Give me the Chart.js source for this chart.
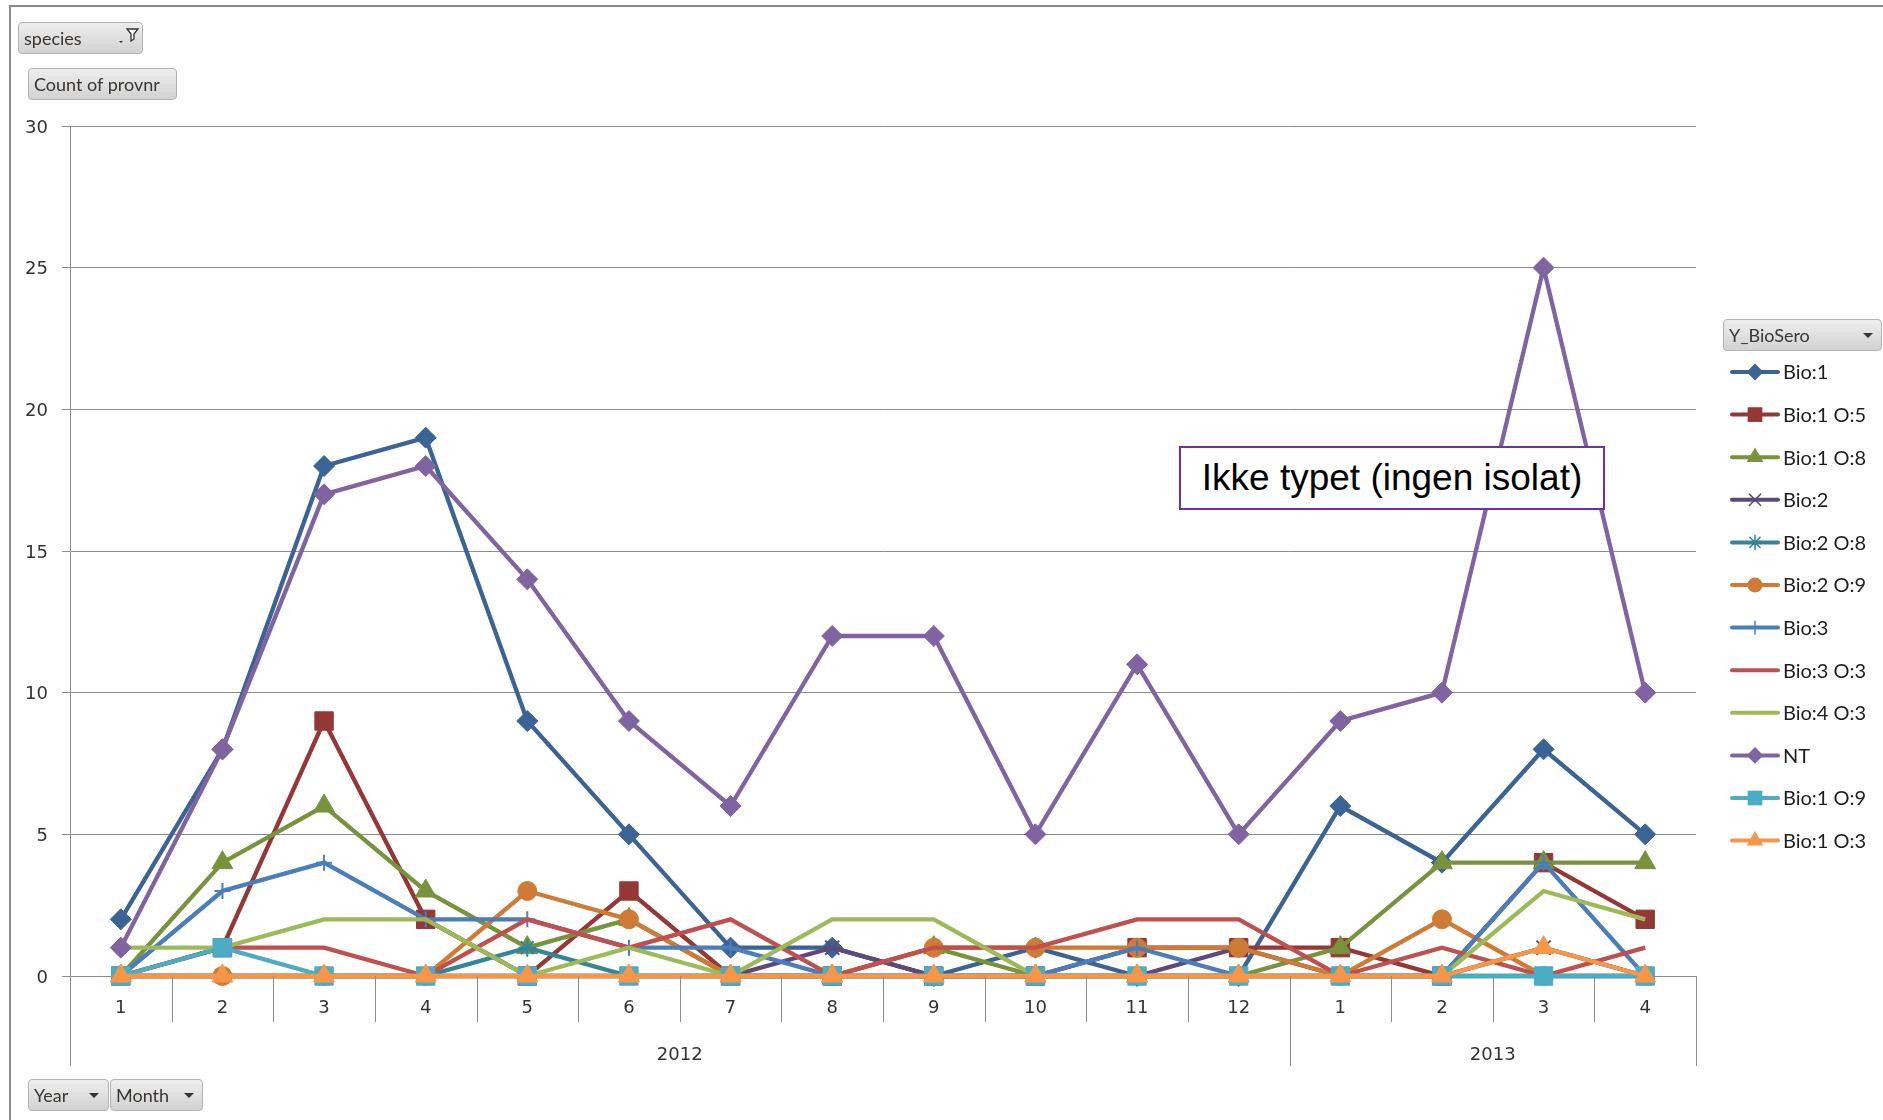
<!DOCTYPE html>
<html>
<head>
<meta charset="utf-8">
<script src="https://cdn.jsdelivr.net/npm/chart.js@4.4.1/dist/chart.umd.min.js"></script>
<style>
  html, body { margin: 0; padding: 0; background: #ffffff; }
  body { width: 1883px; height: 1120px; position: relative; overflow: hidden; }
  #frame { position: absolute; left: 9px; top: 5px; width: 1900px; height: 1200px;
           border-left: 2px solid #8a8a8a; border-top: 2px solid #8a8a8a; }
  canvas#c { position: absolute; left: 0; top: 0; }
  .btn { position: absolute; box-sizing: border-box; height: 32px;
         background: linear-gradient(#eeeeee, #d2d2d2); border: 1px solid #b4b4b4;
         border-radius: 4px; font-family: Lato, "Open Sans", sans-serif; font-size: 18px;
         color: #3a3633; line-height: 30px; padding-left: 5px; white-space: nowrap; }
  .arrow { position: absolute; top: 13px; width: 0; height: 0;
           border-left: 5px solid transparent; border-right: 5px solid transparent; border-top: 5px solid #333; }
  #note { position: absolute; left: 1179px; top: 446px; width: 426px; height: 64px; box-sizing: border-box;
          border: 2px solid #7030a0; background: #ffffff; font-family: "Liberation Sans", Arial, sans-serif;
          font-size: 37px; color: #000; text-align: center; line-height: 60px; white-space: nowrap; }
</style>
</head>
<body>
<div id="frame"></div>
<canvas id="c" width="1883" height="1120"></canvas>

<div class="btn" style="left:18px;top:22px;width:125px;">species
  <svg style="position:absolute;left:99px;top:4px" width="22" height="20" viewBox="0 0 22 20">
    <path d="M1 14 L5 14 L3 16 Z" fill="#333"/>
    <path d="M9 2 L20 2 L16 7 L16 12 L13 14 L13 7 Z" fill="#fff" stroke="#333" stroke-width="1.3"/>
  </svg>
</div>
<div class="btn" style="left:28px;top:68px;width:149px;">Count of provnr</div>
<div class="btn" style="left:28px;top:1079px;width:81px;">Year<span class="arrow" style="left:60px"></span></div>
<div class="btn" style="left:110px;top:1079px;width:93px;">Month<span class="arrow" style="left:73px"></span></div>
<div class="btn" style="left:1723px;top:319px;width:159px;">Y_BioSero<span class="arrow" style="left:139px"></span></div>
<div id="note">Ikke typet (ingen isolat)</div>

<script>
// ---------- data ----------
const months = ['1','2','3','4','5','6','7','8','9','10','11','12','1','2','3','4'];
const years = ['2012', '2013'];
const yearSpans = [12, 4];
const yTicks = [0, 5, 10, 15, 20, 25, 30];

const seriesNames = ['Bio:1','Bio:1 O:5','Bio:1 O:8','Bio:2','Bio:2 O:8','Bio:2 O:9',
                     'Bio:3','Bio:3 O:3','Bio:4 O:3','NT','Bio:1 O:9','Bio:1 O:3'];

const bio1    = [2, 8, 18, 19, 9, 5, 1, 1, 0, 1, 0, 0, 6, 4, 8, 5];
const bio1o5  = [0, 1, 9, 2, 0, 3, 0, 0, 0, 0, 1, 1, 1, 0, 4, 2];
const bio1o8  = [0, 4, 6, 3, 1, 2, 0, 0, 1, 0, 0, 0, 1, 4, 4, 4];
const bio2    = [0, 0, 0, 0, 0, 0, 0, 1, 0, 0, 0, 1, 0, 0, 1, 0];
const bio2o8  = [0, 0, 0, 0, 1, 0, 0, 0, 0, 0, 0, 0, 0, 0, 0, 0];
const bio2o9  = [0, 0, 0, 0, 3, 2, 0, 0, 1, 1, 1, 1, 0, 2, 0, 0];
const bio3    = [0, 3, 4, 2, 2, 1, 1, 0, 0, 0, 1, 0, 0, 0, 4, 0];
const bio3o3  = [0, 1, 1, 0, 2, 1, 2, 0, 1, 1, 2, 2, 0, 1, 0, 1];
const bio4o3  = [1, 1, 2, 2, 0, 1, 0, 2, 2, 0, 0, 0, 0, 0, 3, 2];
const nt      = [1, 8, 17, 18, 14, 9, 6, 12, 12, 5, 11, 5, 9, 10, 25, 10];
const bio1o9  = [0, 1, 0, 0, 0, 0, 0, 0, 0, 0, 0, 0, 0, 0, 0, 0];
const bio1o3  = [0, 0, 0, 0, 0, 0, 0, 0, 0, 0, 0, 0, 0, 0, 1, 0];

const seriesValues = [bio1, bio1o5, bio1o8, bio2, bio2o8, bio2o9, bio3, bio3o3, bio4o3, nt, bio1o9, bio1o3];

// ---------- styles ----------
const seriesColors = ['#3a6396','#953735','#77933c','#5f497a','#31859c','#d07b35',
                      '#4a7ebb','#c0504d','#9bbb59','#8064a2','#4bacc6','#f79646'];
const seriesMarkers = ['rectRot','rect','triangle','crossRot','star','circle',
                       'cross', false, false, 'rectRot','rect','triangle'];
const markerRadius = { rectRot: 10.5, rect: 13, triangle: 12, crossRot: 10, star: 9, circle: 9.5, cross: 8 };

const datasets = seriesNames.map((name, i) => {
  const m = seriesMarkers[i];
  const lineMark = (m === 'crossRot' || m === 'star' || m === 'cross');
  return {
    label: name,
    data: seriesValues[i],
    borderColor: seriesColors[i],
    backgroundColor: seriesColors[i],
    borderWidth: 4.3,
    pointStyle: m || 'circle',
    pointRadius: m ? markerRadius[m] : 0,
    pointBorderWidth: lineMark ? 2 : 1,
    pointBorderColor: seriesColors[i],
    pointBackgroundColor: seriesColors[i],
    tension: 0,
    clip: false,
    order: seriesNames.length - i
  };
});

// marker drawing for legend
function drawMarker(ctx, style, x, y, r, color) {
  ctx.save();
  ctx.fillStyle = color; ctx.strokeStyle = color; ctx.lineWidth = 2;
  ctx.beginPath();
  if (style === 'rectRot') {
    ctx.moveTo(x - r, y); ctx.lineTo(x, y - r); ctx.lineTo(x + r, y); ctx.lineTo(x, y + r); ctx.closePath(); ctx.fill();
  } else if (style === 'rect') {
    const s = r * Math.SQRT1_2; ctx.rect(x - s, y - s, 2 * s, 2 * s); ctx.fill();
  } else if (style === 'triangle') {
    for (let k = 0; k < 3; k++) {
      const a = k * 2 * Math.PI / 3;
      const px = x + Math.sin(a) * r, py = y - Math.cos(a) * r;
      if (k === 0) ctx.moveTo(px, py); else ctx.lineTo(px, py);
    }
    ctx.closePath(); ctx.fill();
  } else if (style === 'circle') {
    ctx.arc(x, y, r, 0, Math.PI * 2); ctx.fill();
  } else if (style === 'cross' || style === 'crossRot' || style === 'star') {
    ctx.lineWidth = 1.5;
    const angs = style === 'cross' ? [0, 90] : style === 'crossRot' ? [45, 135] : [0, 45, 90, 135];
    angs.forEach(d => {
      const a = d * Math.PI / 180;
      ctx.moveTo(x - Math.cos(a) * r, y - Math.sin(a) * r);
      ctx.lineTo(x + Math.cos(a) * r, y + Math.sin(a) * r);
    });
    ctx.stroke();
  }
  ctx.restore();
}

const excelExtras = {
  id: 'excelExtras',
  afterDraw(chart) {
    const { ctx, chartArea, scales: { x } } = chart;
    const n = months.length;
    const step = x.getPixelForValue(1) - x.getPixelForValue(0);
    const b = i => x.getPixelForValue(i) - step / 2;
    const bounds = [0];
    let acc = 0; yearSpans.forEach(s => { acc += s; bounds.push(acc); });
    ctx.save();
    ctx.strokeStyle = '#8c8c8c'; ctx.lineWidth = 1;
    for (let i = 0; i <= n; i++) {
      const long = bounds.includes(i);
      const xx = Math.round(b(i)) + 0.5;
      ctx.beginPath();
      ctx.moveTo(xx, chartArea.bottom);
      ctx.lineTo(xx, chartArea.bottom + (long ? 90 : 46));
      ctx.stroke();
    }
    ctx.fillStyle = '#333333';
    ctx.font = '18px "DejaVu Sans"';
    ctx.textAlign = 'center'; ctx.textBaseline = 'middle';
    years.forEach((yr, k) => {
      const c = (b(bounds[k]) + b(bounds[k + 1])) / 2;
      ctx.fillText(yr, c, chartArea.bottom + 79);
    });

    // legend
    const lx0 = 1732, lx1 = 1778, ly0 = 372, lstep = 42.6;
    chart.data.datasets.forEach((ds, i) => {
      const y = ly0 + i * lstep;
      ctx.strokeStyle = ds.borderColor; ctx.lineWidth = 4; ctx.lineCap = 'round';
      ctx.beginPath(); ctx.moveTo(lx0, y); ctx.lineTo(lx1, y); ctx.stroke();
      if (ds.pointRadius > 0) drawMarker(ctx, ds.pointStyle, (lx0 + lx1) / 2, y, ds.pointRadius * 0.8, ds.borderColor);
      ctx.fillStyle = '#1e1e1e';
      ctx.font = '20px Lato';
      ctx.textAlign = 'left'; ctx.textBaseline = 'middle';
      ctx.fillText(ds.label, 1783, y + 1);
    });
    ctx.restore();
  }
};

new Chart(document.getElementById('c'), {
  type: 'line',
  data: { labels: months, datasets },
  options: {
    responsive: false,
    animation: false,
    events: [],
    devicePixelRatio: 1,
    layout: { padding: { left: 0, top: 126, right: 187, bottom: 0 } },
    plugins: { legend: { display: false }, tooltip: { enabled: false } },
    scales: {
      x: {
        type: 'category',
        offset: true,
        grid: { display: false, drawTicks: false },
        border: { display: true, color: '#8c8c8c', width: 1 },
        ticks: { color: '#333333', font: { family: 'DejaVu Sans', size: 18 }, padding: 22, maxRotation: 0, autoSkip: false },
        afterFit(s) { s.height = 144; }
      },
      y: {
        min: 0, max: 30,
        afterBuildTicks(s) { s.ticks = yTicks.map(v => ({ value: v })); },
        grid: { color: '#8c8c8c', lineWidth: 1, drawTicks: true, tickLength: 8 },
        border: { display: true, color: '#8c8c8c', width: 1 },
        ticks: { color: '#333333', font: { family: 'DejaVu Sans', size: 18 }, padding: 14, labelOffset: 2 },
        afterFit(s) { s.width = 70; }
      }
    }
  },
  plugins: [excelExtras]
});
</script>
</body>
</html>
